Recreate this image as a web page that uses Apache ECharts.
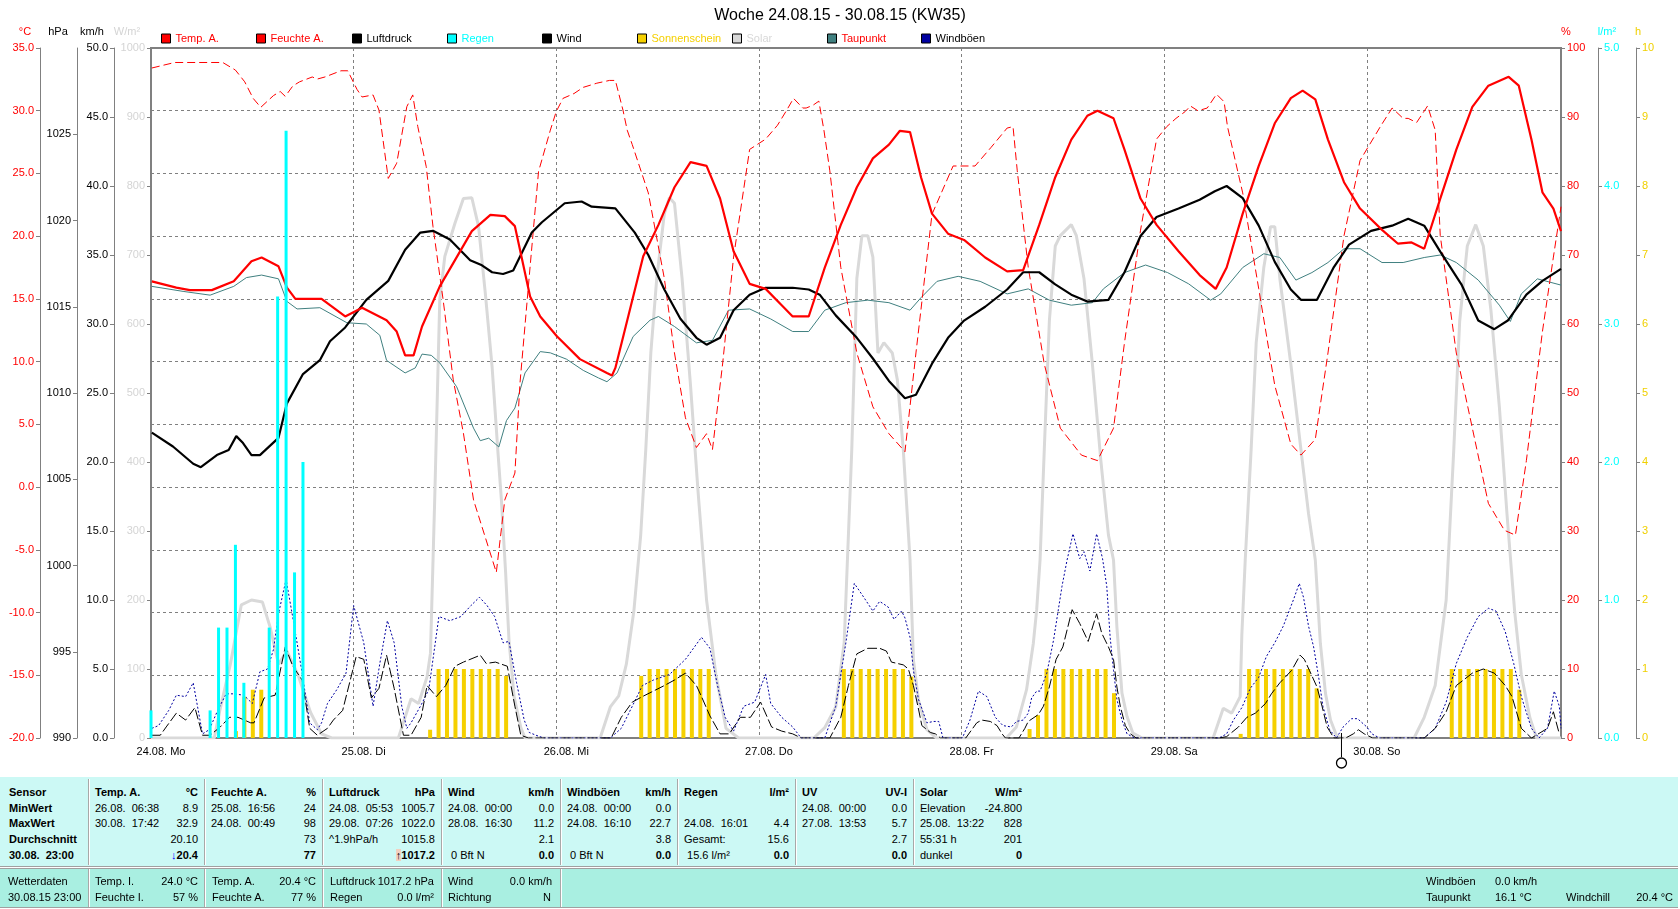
<!DOCTYPE html>
<html><head><meta charset="utf-8">
<script src="https://cdn.jsdelivr.net/npm/echarts/dist/echarts.min.js"></script>
<style>
html,body{margin:0;padding:0;background:#fff;overflow:hidden;width:1680px;height:909px;}
#chart{position:absolute;left:0;top:0;width:1680px;height:909px;}
#table{position:absolute;left:0;top:0;width:1680px;height:909px;pointer-events:none;font-family:'Liberation Sans',Arial,sans-serif;font-size:11px;color:#000;}
.t{position:absolute;white-space:pre;line-height:14px;height:14px;}
.b{font-weight:bold;}
.box{position:absolute;}
</style></head><body>
<div id="chart"></div><div id="table"></div>
<script>
const FONT = 'Liberation Sans';
const dayLabels = ['24.08. Mo','25.08. Di','26.08. Mi','27.08. Do','28.08. Fr','29.08. Sa','30.08. So'];

// [hour since 24.08. 00:00, value]
const tempA = [[0.1,16.4],[3.0,15.9],[4.6,15.7],[7.2,15.7],[9.8,16.4],[11.9,18.0],[13.1,18.3],[15.1,17.6],[16.1,15.9],[17.1,15.0],[20.2,15.0],[23.0,13.6],[25.0,14.3],[27.9,13.3],[29.1,12.4],[30.1,10.5],[31.1,10.5],[32.1,12.8],[34.2,16.0],[38.0,20.4],[40.2,21.7],[41.9,21.6],[43.1,20.8],[44.9,15.2],[46.1,13.6],[48.1,12.0],[50.8,10.2],[54.0,9.1],[54.6,8.9],[55.0,9.5],[58.3,18.4],[60.1,20.9],[62.0,23.9],[63.9,25.9],[65.8,25.6],[67.4,23.0],[69.0,18.8],[70.9,16.2],[72.8,15.8],[74.7,14.5],[76.0,13.6],[77.9,13.6],[79.8,17.5],[81.7,20.9],[83.6,23.9],[85.5,26.2],[87.4,27.3],[88.7,28.4],[89.9,28.3],[91.2,24.7],[92.5,21.8],[94.4,20.2],[96.3,19.7],[98.8,18.3],[101.4,17.2],[103.3,17.3],[105.2,20.9],[107.1,24.7],[109.0,27.7],[110.9,29.6],[112.1,30.0],[114.0,29.4],[115.3,26.9],[117.2,23.0],[119.1,20.9],[121.7,18.8],[124.2,16.9],[126.1,15.8],[127.4,17.5],[129.3,21.8],[131.2,25.6],[133.1,29.0],[135.0,31.0],[136.4,31.6],[137.9,30.9],[139.4,27.7],[141.3,24.3],[143.2,22.2],[145.8,20.5],[147.7,19.4],[149.3,19.5],[150.8,19.0],[152.7,23.0],[154.6,26.9],[156.5,30.3],[158.4,32.0],[160.8,32.7],[162.0,32.0],[163.5,27.7],[164.8,23.5],[166.1,22.2],[167,20.4]];

const feuchteA = [[0.1,97.1],[2.8,97.9],[8.5,97.9],[10.0,96.8],[11.1,95.1],[12.1,92.7],[13.0,91.4],[14.5,93.1],[15.3,93.7],[15.9,93.0],[16.8,94.5],[17.6,95.1],[19.1,95.8],[19.7,95.5],[20.6,95.8],[22.5,96.7],[23.3,96.7],[24.4,94.0],[25.0,92.9],[26.3,93.2],[27.0,91.0],[28.1,81.1],[29.1,83.3],[30.3,91.5],[31.0,93.2],[31.6,88.6],[32.6,82.8],[33.4,74.1],[34.6,63.5],[35.8,51.9],[37.0,44.2],[38.2,34.5],[40.9,24.0],[41.9,34.5],[43.1,38.4],[43.7,51.4],[44.9,68.3],[45.9,82.1],[47.3,88.1],[48.0,90.8],[48.8,92.7],[50.1,93.4],[51.2,94.3],[52.8,94.9],[54.3,95.3],[55.0,95.3],[55.9,91.0],[56.4,88.1],[57.0,86.0],[58.9,79.0],[60.8,66.6],[62.0,55.8],[63.3,46.4],[64.6,42.1],[65.8,44.1],[66.5,41.8],[67.7,54.2],[69.0,69.7],[70.9,85.3],[72.8,86.8],[74.2,88.8],[75.3,91.0],[76.1,92.7],[77.2,91.3],[77.6,91.3],[78.4,91.7],[79.1,92.3],[79.7,88.1],[80.4,82.2],[81.7,68.2],[83.6,55.8],[85.5,48.0],[87.4,44.1],[89.3,41.5],[90.6,55.8],[92.5,75.9],[95.0,82.9],[97.6,82.9],[99.5,85.6],[101.4,88.4],[102.1,88.6],[102.6,82.2],[103.9,68.2],[105.8,54.2],[107.7,44.9],[110.2,41.0],[112.1,40.2],[114.0,44.9],[115.3,57.3],[117.2,73.6],[119.1,86.8],[120.3,88.6],[121.4,89.8],[122.5,90.8],[123.1,91.6],[124.0,90.9],[125.1,91.3],[126.2,93.3],[127.1,92.2],[127.5,88.6],[129.3,79.0],[131.2,65.1],[133.1,51.1],[135.0,42.6],[136.2,41.0],[137.9,43.3],[139.4,55.8],[141.3,72.8],[143.2,83.7],[145.7,88.8],[147.0,91.3],[148.3,89.8],[148.9,89.8],[149.9,89.2],[151.2,91.6],[152.1,88.1],[152.7,72.8],[154.6,55.8],[156.5,44.9],[158.4,34.0],[160.3,30.1],[161.6,29.4],[162.9,40.2],[164.8,58.9],[166.1,69.7],[167,77]];

const luftdruck = [[0.1,1007.7],[2.6,1006.9],[5.0,1005.9],[5.9,1005.7],[7.8,1006.4],[9.2,1006.7],[10.1,1007.5],[10.9,1007.1],[11.9,1006.4],[12.9,1006.4],[15.1,1007.4],[16.1,1009.4],[18.0,1011.1],[20.0,1011.9],[21.2,1013.0],[23.0,1013.8],[25.5,1015.4],[28.1,1016.5],[30.1,1018.3],[31.9,1019.3],[33.4,1019.4],[35.4,1018.9],[37.8,1017.7],[39.2,1017.4],[40.4,1017.0],[41.7,1016.9],[42.9,1017.1],[45.1,1019.3],[46.3,1019.9],[49.0,1021.0],[51.0,1021.1],[52.2,1020.8],[55.0,1020.7],[57.3,1019.3],[58.9,1018.0],[60.8,1016.0],[62.7,1014.3],[64.6,1013.2],[65.8,1012.8],[67.4,1013.2],[69.0,1014.8],[70.9,1015.7],[72.8,1016.1],[76.0,1016.1],[77.9,1016.0],[79.2,1015.7],[81.1,1014.5],[83.6,1013.2],[85.5,1012.0],[87.4,1010.7],[89.3,1009.7],[90.6,1009.9],[92.5,1011.7],[94.4,1013.2],[96.3,1014.2],[98.8,1015.0],[101.4,1016.0],[103.3,1017.0],[105.2,1017.0],[107.1,1016.3],[109.0,1015.7],[110.9,1015.3],[113.4,1015.4],[115.3,1017.0],[117.2,1019.1],[119.1,1020.2],[121.7,1020.7],[124.2,1021.2],[126.0,1021.7],[127.4,1022.0],[129.3,1021.3],[131.2,1019.7],[133.1,1017.6],[135.0,1016.0],[136.2,1015.4],[138.1,1015.4],[140.1,1017.3],[141.9,1018.6],[144.5,1019.4],[147.0,1019.7],[148.9,1020.1],[150.8,1019.7],[152.7,1018.2],[155.2,1016.3],[157.2,1014.2],[159.1,1013.7],[160.7,1014.2],[162.9,1015.7],[164.8,1016.5],[167,1017.2]];

const taupunkt = [[0.1,16.0],[3.8,15.6],[7.0,15.3],[9.8,16.0],[11.3,16.7],[13.1,16.9],[15.1,16.6],[16.1,14.8],[17.3,14.2],[20.0,14.3],[23.2,13.1],[25.5,13.0],[27.1,12.1],[27.9,10.1],[30.1,9.1],[31.3,9.5],[32.1,10.6],[33.2,10.5],[34.2,9.9],[36.2,8.0],[38.2,4.7],[39.0,3.7],[40.0,3.9],[41.2,3.2],[42.1,5.3],[43.1,6.3],[44.3,9.1],[46.1,10.8],[47.3,10.7],[49.2,10.2],[51.2,9.3],[53.0,8.7],[54.0,8.4],[55.2,9.1],[57.1,12.0],[59.1,13.3],[60.1,13.6],[62.0,12.8],[64.6,11.5],[66.5,11.7],[68.4,14.1],[70.9,14.2],[73.4,13.4],[76.0,12.4],[77.9,12.4],[79.8,14.1],[82.3,14.7],[84.9,14.9],[87.4,14.7],[89.9,14.1],[91.2,15.1],[93.1,16.4],[95.6,16.8],[98.2,16.4],[101.4,15.4],[103.9,15.8],[106.4,14.9],[109.0,14.5],[111.5,14.7],[112.8,15.8],[115.3,17.1],[117.8,17.7],[120.4,17.1],[122.9,16.2],[125.5,14.9],[126.7,15.4],[129.3,17.5],[131.8,18.6],[133.7,18.3],[135.6,16.5],[137.5,17.1],[139.4,17.9],[141.3,19.0],[143.2,19.0],[145.8,17.9],[148.3,17.9],[150.8,18.3],[152.7,18.5],[154.6,17.9],[157.2,16.5],[159.7,14.5],[161.0,13.2],[162.3,15.4],[164.2,16.6],[167,16.1]];

const solar = [[0,0],[7.5,0],[8.1,37],[9.4,107],[10.7,193],[11.9,200],[13.2,197],[14.1,161],[15.1,107],[16.1,126],[17.4,92],[18.9,37],[20.2,6],[21.4,0],
[29.3,0],[30.8,57],[31.7,50],[32.7,89],[33.1,123],[33.6,345],[34.2,635],[34.8,698],[36.0,746],[37.0,782],[38.0,783],[38.8,741],[39.6,644],[40.4,538],[41.1,413],[41.5,345],[42.0,240],[42.4,142],[43.0,60],[43.8,15],[44.3,0],
[53.2,0],[54.4,45],[55.4,61],[56.3,107],[57.2,185],[58.0,294],[58.6,418],[59.2,558],[59.9,666],[60.8,760],[61.4,783],[62.0,775],[62.9,666],[63.9,511],[64.8,356],[65.8,200],[66.9,92],[68.1,14],[69.6,0],
[78.5,0],[79.8,15],[81.1,45],[82.1,138],[83.0,418],[83.6,666],[84.2,728],[84.9,728],[85.5,697],[86.1,558],[86.8,573],[87.8,558],[88.4,519],[89.1,418],[89.9,258],[90.3,113],[90.9,55],[91.9,12],[93.0,0],
[101.3,0],[102.5,16],[103.7,70],[104.5,137],[104.9,186],[105.3,258],[105.8,418],[106.4,604],[107.1,713],[107.7,728],[109.0,744],[109.6,728],[110.5,666],[111.5,542],[112.5,402],[113.4,294],[114.0,258],[114.4,161],[115.0,65],[115.6,31],[116.3,7],[117.4,0],
[125.8,0],[127.0,43],[128.0,36],[129.0,60],[129.2,150],[129.6,258],[130.3,418],[130.9,573],[131.8,682],[132.6,741],[133.1,741],[133.7,666],[135.0,542],[136.2,418],[137.1,325],[137.9,258],[138.5,137],[139.1,65],[139.7,26],[140.4,4],[141.0,0],
[149.6,0],[150.8,30],[152.1,76],[153.4,200],[154.3,418],[155.0,604],[155.9,713],[156.9,744],[157.8,713],[158.7,620],[159.7,480],[160.6,325],[161.5,185],[162.3,92],[163.3,30],[164.1,0],[167,0]];

const wind = [[0.1,0.2],[1.1,0.2],[1.8,0.8],[3.0,1.8],[4.1,1.3],[5.2,2.2],[6.1,0.2],[7.0,0.2],[8.2,0.8],[9.3,1.5],[10.3,1.5],[11.8,1.1],[12.2,1.1],[13.4,2.9],[14.7,3.1],[15.9,6.6],[16.8,5.2],[17.9,4.2],[18.8,0.7],[19.7,0.2],[20.9,0.7],[21.6,1.3],[22.7,2.0],[24.3,5.9],[25.2,5.7],[26.1,2.9],[27.0,3.6],[27.9,6.0],[28.8,3.6],[29.9,0.2],[30.8,0.2],[32.0,1.5],[32.7,3.8],[33.8,3.0],[34.9,3.8],[36.0,5.2],[37.0,5.5],[39.0,6.0],[39.7,5.4],[40.8,5.5],[42.2,5.2],[43.1,2.3],[43.8,0.2],[44.7,0],
[54.5,0],[55.7,1.5],[57.0,2.6],[58.2,3.0],[59.5,3.4],[60.8,3.8],[62.0,4.2],[63.3,4.7],[64.6,3.8],[65.2,3.0],[66.2,1.6],[67.4,0.3],[68.5,0.3],[69.8,1.5],[71.0,1.5],[72.2,2.6],[73.5,0.8],[74.7,0.5],[76.0,0.3],[77.0,0],
[80.4,0],[81.7,1.5],[82.6,3.8],[83.6,6.1],[84.9,6.5],[86.3,6.5],[87.1,6.3],[87.7,5.5],[89.1,5.3],[89.7,5.0],[90.3,3.8],[90.9,2.1],[91.3,0.9],[92.3,0.4],[92.9,0.3],[93.5,0],
[96.5,0],[97.8,1.1],[98.4,1.3],[99.4,1.2],[100.2,0.9],[100.8,0.3],[101.2,0],[102.8,0],[103.5,0.7],[103.9,1.2],[105.1,1.7],[105.7,2.3],[106.4,3.7],[107.2,5.7],[108.0,6.6],[109.1,9.3],[110.0,8.3],[111.0,7.0],[112.0,9.0],[112.6,7.6],[113.4,6.6],[114.0,5.7],[114.4,3.7],[114.8,2.3],[115.4,0.9],[116.0,0.3],[116.7,0],
[126.5,0],[127.4,0.1],[128.8,0.8],[129.8,1.5],[130.8,1.8],[132.0,2.5],[132.7,3.2],[133.7,4.0],[135.1,4.9],[136.1,6.0],[136.6,5.7],[137.2,4.9],[138.1,3.7],[138.7,2.3],[139.3,0.8],[140.1,0],[141.5,0],[142.4,0.3],[143.0,0.6],[143.7,0.3],[144.7,0],
[150.8,0],[152.1,0.7],[153.4,1.9],[154.6,3.8],[156.5,4.7],[157.8,5.0],[159.1,4.7],[160.4,3.8],[161.2,3.0],[162.3,0.7],[163.5,0],[165.4,0.7],[166.1,1.9],[166.8,0.3]];

const windboeen = [[0.1,0.7],[0.9,0.9],[2.1,2.0],[3.0,3.1],[4.1,3.0],[5.0,4.0],[6.1,0.3],[6.9,0.6],[7.9,2.0],[8.9,3.2],[9.8,3.2],[11.0,3.1],[12.0,2.5],[12.9,4.8],[13.8,5.0],[14.5,6.4],[15.1,9.0],[16.0,11.5],[17.0,8.0],[17.9,4.7],[18.8,1.1],[19.7,0.6],[20.2,1.1],[20.9,2.5],[22.0,3.5],[23.1,4.7],[24.0,9.6],[25.2,6.9],[26.3,2.3],[27.1,5.4],[28.0,8.5],[28.8,6.9],[29.7,2.3],[30.3,0.7],[30.8,1.1],[32.0,2.4],[32.9,3.5],[34.1,8.8],[35.4,8.5],[36.7,8.8],[37.9,9.6],[38.9,10.2],[39.8,9.6],[40.7,8.8],[41.7,6.9],[42.4,7.0],[43.3,4.0],[44.2,1.3],[44.8,0.4],[45.6,0.2],[46.5,0],
[54.4,0],[55.7,0.7],[57.0,2.3],[58.2,3.8],[59.5,4.2],[61.4,4.6],[63.3,5.7],[65.2,7.3],[66.2,6.5],[67.1,3.8],[68.0,1.5],[69.0,0.5],[70.2,2.3],[71.5,2.6],[72.8,4.6],[73.4,2.5],[74.7,1.5],[76.0,0.8],[77.0,0],
[79.8,0],[81.1,2.3],[82.3,6.9],[83.3,11.2],[84.2,10.4],[85.5,9.2],[86.3,9.9],[87.3,9.5],[88.0,8.6],[88.9,9.2],[89.3,8.7],[89.9,7.3],[90.3,4.9],[90.9,2.8],[91.9,1.1],[92.7,1.2],[93.3,1.2],[93.8,0],
[96.1,0],[97.0,1.3],[98.0,3.4],[99.0,3.0],[100.0,1.5],[100.9,0.9],[101.9,0.8],[102.5,1.2],[103.3,1.3],[103.9,1.8],[104.3,2.9],[104.9,3.4],[105.3,3.4],[106.1,4.7],[106.9,7.1],[107.9,11.0],[108.5,12.9],[109.2,14.8],[110.0,13.0],[110.5,13.5],[111.2,12.1],[112.0,14.8],[112.7,13.0],[113.2,11.0],[113.6,7.3],[114.0,4.9],[114.4,2.8],[115.0,1.3],[115.6,0.3],[116.5,0],
[126.5,0],[127.4,0.3],[128.2,1.3],[129.2,2.2],[130.2,3.6],[131.2,4.4],[132.1,5.9],[133.1,6.9],[134.1,8.1],[135.3,10.0],[136.0,11.2],[136.5,10.2],[137.1,8.1],[137.7,6.6],[138.3,4.4],[138.8,2.3],[139.6,0.6],[140.4,0],[141.2,0.8],[142.2,1.4],[142.9,1.4],[144.0,0.8],[144.6,0.3],[145.5,0],
[150.8,0],[152.1,0.7],[153.4,2.6],[154.6,5.4],[155.9,7.3],[157.2,8.8],[158.4,9.4],[159.3,9.2],[160.4,7.7],[161.4,5.4],[162.3,3.0],[163.5,0.7],[164.4,0],[165.4,0.7],[166.2,3.4],[166.8,2.3],[167,0.7]];

const regen = [[0,0.2],[7,0.2],[8,0.8],[9,0.8],[10,1.4],[11,0.4],[14,0.8],[15,3.2],[16,4.4],[17,1.2],[18,2.0]];

const sonne = [[10,0.1],[11,0.6],[12,0.7],[13,0.7],[33,0.12],[34,1],[35,1],[36,1],[37,1],[38,1],[39,1],[40,1],[41,1],[42,0.9],[58,0.9],[59,1],[60,1],[61,1],[62,1],[63,1],[64,1],[65,1],[66,1],[82,1],[83,1],[84,1],[85,1],[86,1],[87,1],[88,1],[89,1],[90,0.89],[104,0.13],[105,0.33],[106,1],[107,1],[108,1],[109,1],[110,1],[111,1],[112,1],[113,1],[114,0.65],[129,0.06],[130,1],[131,1],[132,1],[133,1],[134,1],[135,1],[136,1],[137,1],[138,0.72],[154,1],[155,1],[156,1],[157,1],[158,1],[159,1],[160,1],[161,1],[162,0.7]];

const markerHour = 141;

const legendNames  = ['Temp. A.','Feuchte A.','Luftdruck','Regen','Wind','Sonnenschein','Solar','Taupunkt','Windböen'];
const legendIcon   = ['#ff0000','#ff0000','#000000','#00ffff','#000000','#f5d000','#d8d8d8','#408080','#0000a0'];
const legendText   = ['#ff0000','#ff0000','#000000','#00ffff','#000000','#f5d000','#d8d8d8','#ff0000','#000000'];
const legendLeft   = [161,256,352,447,542,637,732,827,921];

// ---------- chart ----------
const chart = echarts.init(document.getElementById('chart'), null, {renderer:'canvas'});
const GRAY = '#808080';
function yAxisDef(o){
  return {
    type:'value', position:o.pos, offset:o.off, min:o.min, max:o.max, interval:o.int,
    axisLine:{show:true, onZero:false, lineStyle:{color:GRAY, width:o.w||1}},
    axisTick:{show:true, inside:false, length:4, lineStyle:{color:GRAY}},
    splitLine: o.split ? {show:true, lineStyle:{color:GRAY, width:1, type:[3,3]}} : {show:false},
    axisLabel:{show:true, color:o.color, fontSize:11, fontFamily:FONT, margin:6, showMaxLabel:o.showMax!==false, formatter:o.fmt},
    name:''
  };
}
const option = {
  animation:false,
  backgroundColor:'#ffffff',
  title:{text:'Woche 24.08.15 - 30.08.15 (KW35)', left:'center', top:8, padding:0,
    textStyle:{fontSize:16, fontWeight:'normal', color:'#000', fontFamily:FONT}},
  legend: legendNames.map((n,i)=>({
    left:legendLeft[i], top:33, padding:0, itemWidth:9, itemHeight:9, icon:'rect', selectedMode:false,
    textStyle:{fontSize:11, fontFamily:FONT, color:legendText[i]},
    itemStyle:{borderColor:'#000', borderWidth:1},
    data:[{name:n, icon:'rect', itemStyle:{color:legendIcon[i], borderColor:'#000', borderWidth:1}, textStyle:{color:legendText[i]}}]
  })),
  grid:{left:151, right:119, top:48, bottom:171, show:true, borderColor:GRAY, borderWidth:2, containLabel:false},
  xAxis:{type:'value', min:0, max:167, interval:24,
    axisLine:{show:true, onZero:false, lineStyle:{color:GRAY, width:2}},
    axisTick:{show:false},
    splitLine:{show:true, lineStyle:{color:GRAY, width:1, type:[3,3]}},
    axisLabel:{show:true, margin:8, showMaxLabel:false, fontSize:11, fontFamily:FONT, color:'#000',
      formatter:v => (v % 24 === 0 && dayLabels[v/24]) ? '{a|'+dayLabels[v/24]+'}' : '',
      rich:{a:{padding:[0,0,0,20], fontSize:11, fontFamily:FONT, color:'#000'}}}
  },
  yAxis:[
    yAxisDef({pos:'left', off:111, min:-20, max:35, int:5, color:'#ff0000', split:true, fmt:v=>v.toFixed(1)}),
    yAxisDef({pos:'left', off:74, min:990, max:1030, int:5, color:'#000', showMax:false, fmt:v=>String(v)}),
    yAxisDef({pos:'left', off:37, min:0, max:50, int:5, color:'#000', fmt:v=>v.toFixed(1)}),
    yAxisDef({pos:'left', off:0, min:0, max:1000, int:100, color:'#d4d4d4', w:2, fmt:v=>String(v)}),
    yAxisDef({pos:'right', off:0, min:0, max:100, int:10, color:'#ff0000', w:2, fmt:v=>String(v)}),
    yAxisDef({pos:'right', off:37, min:0, max:5, int:1, color:'#00ffff', fmt:v=>v.toFixed(1)}),
    yAxisDef({pos:'right', off:75, min:0, max:10, int:1, color:'#f0d000', fmt:v=>String(v)})
  ],
  series:[
    {name:'Solar', type:'line', yAxisIndex:3, data:solar, symbol:'none', z:1,
      lineStyle:{color:'#d9d9d9', width:3}, itemStyle:{color:'#d8d8d8'}},
    {name:'Sonnenschein', type:'bar', yAxisIndex:6, data:sonne, barWidth:4, barGap:'-100%', z:2,
      itemStyle:{color:'#f5d000'}},
    {name:'Windböen', type:'line', yAxisIndex:2, data:windboeen, symbol:'none', z:3,
      lineStyle:{color:'#0000a0', width:1, type:[2,2]}, itemStyle:{color:'#0000a0'}},
    {name:'Wind', type:'line', yAxisIndex:2, data:wind, symbol:'none', z:3,
      lineStyle:{color:'#000000', width:1, type:[10,3]}, itemStyle:{color:'#000'}},
    {name:'Taupunkt', type:'line', yAxisIndex:0, data:taupunkt, symbol:'none', z:4,
      lineStyle:{color:'#408080', width:1}, itemStyle:{color:'#408080'}},
    {name:'Feuchte A.', type:'line', yAxisIndex:4, data:feuchteA, symbol:'none', z:4,
      lineStyle:{color:'#ff0000', width:1, type:[8,4]}, itemStyle:{color:'#ff0000'}},
    {name:'Luftdruck', type:'line', yAxisIndex:1, data:luftdruck, symbol:'none', z:5,
      lineStyle:{color:'#000000', width:2.2}, itemStyle:{color:'#000'}},
    {name:'Temp. A.', type:'line', yAxisIndex:0, data:tempA, symbol:'none', z:6,
      lineStyle:{color:'#ff0000', width:2.2}, itemStyle:{color:'#ff0000'}},
    {name:'Regen', type:'bar', yAxisIndex:5, data:regen, barWidth:3, barGap:'-100%', z:7,
      itemStyle:{color:'#00ffff'}}
  ]
};
chart.setOption(option);

const units = [['°C',25,'#ff0000'],['hPa',58,'#000'],['km/h',92,'#000'],['W/m²',127,'#d4d4d4'],['%',1566,'#ff0000'],['l/m²',1607,'#00ffff'],['h',1638,'#f0d000']];
const mx = chart.convertToPixel({xAxisIndex:0}, markerHour);
const gfx = units.map((u,i)=>({type:'text', id:'u'+i, style:{text:u[0], x:u[1], y:32, fill:u[2], font:'11px '+FONT, align:'center', verticalAlign:'middle'}}));
gfx.push({type:'line', id:'mk1', shape:{x1:mx, y1:733, x2:mx, y2:757}, style:{stroke:'#000', lineWidth:1}, z:10});
gfx.push({type:'circle', id:'mk2', shape:{cx:mx, cy:763, r:5}, style:{fill:'none', stroke:'#000', lineWidth:1.3}, z:10});
chart.setOption({graphic:gfx});

// ---------- table ----------
const tbl = document.getElementById('table');
function box(l,t,w,h,css){const d=document.createElement('div');d.className='box';d.style.cssText=`left:${l}px;top:${t}px;width:${w}px;height:${h}px;`+css;tbl.appendChild(d);}
function txt(x,y,s,align,cls,color){const d=document.createElement('div');d.className='t '+(cls||'');d.textContent=s;
  if(align==='r'){d.style.right=(1680-x)+'px';}else{d.style.left=x+'px';}
  d.style.top=(y-7)+'px'; if(color)d.style.color=color; tbl.appendChild(d); return d;}

const colX = [0,88,204,322,441,560,677,795,913];
const tableHead = [['Sensor',''],['Temp. A.','°C'],['Feuchte A.','%'],['Luftdruck','hPa'],['Wind','km/h'],['Windböen','km/h'],['Regen','l/m²'],['UV','UV-I'],['Solar','W/m²']];
const rowNames = ['MinWert','MaxWert','Durchschnitt','30.08.  23:00'];
const tableRows = [
 [['26.08.  06:38','8.9'],['25.08.  16:56','24'],['24.08.  05:53','1005.7'],['24.08.  00:00','0.0'],['24.08.  00:00','0.0'],['',''],['24.08.  00:00','0.0'],['Elevation','-24.800']],
 [['30.08.  17:42','32.9'],['24.08.  00:49','98'],['29.08.  07:26','1022.0'],['28.08.  16:30','11.2'],['24.08.  16:10','22.7'],['24.08.  16:01','4.4'],['27.08.  13:53','5.7'],['25.08.  13:22','828']],
 [['','20.10'],['','73'],['^1.9hPa/h','1015.8'],['','2.1'],['','3.8'],['Gesamt:','15.6'],['','2.7'],['55:31 h','201']],
 [['','20.4'],['','77'],['','1017.2'],[' 0 Bft N','0.0'],[' 0 Bft N','0.0'],[' 15.6 l/m²','0.0'],['','0.0'],['dunkel','0']]
];
const rowY = [792,808,823,839,855];
const stripY = [881,897];
const stripCells = [
 [8,0,'Wetterdaten','l'],[8,1,'30.08.15 23:00','l'],
 [95,0,'Temp. I.','l'],[198,0,'24.0 °C','r'],[95,1,'Feuchte I.','l'],[198,1,'57 %','r'],
 [212,0,'Temp. A.','l'],[316,0,'20.4 °C','r'],[212,1,'Feuchte A.','l'],[316,1,'77 %','r'],
 [330,0,'Luftdruck','l'],[434,0,'1017.2 hPa','r'],[330,1,'Regen','l'],[434,1,'0.0 l/m²','r'],
 [448,0,'Wind','l'],[552,0,'0.0 km/h','r'],[448,1,'Richtung','l'],[551,1,'N','r'],
 [1426,0,'Windböen','l'],[1495,0,'0.0 km/h','l'],[1426,1,'Taupunkt','l'],[1495,1,'16.1 °C','l'],
 [1566,1,'Windchill','l'],[1673,1,'20.4 °C','r']
];

box(0,777,1678,89,'background:#ccf9f5;border-bottom:1px solid #a0a0a0;');
box(0,868,1678,38,'background:#a9efe1;border-top:1px solid #a0a0a0;border-bottom:1px solid #a0a0a0;');
colX.slice(1).forEach(x=>{box(x,779,1,86,'background:#a8a8a8;');box(x+1,779,1,86,'background:#ffffff;');});
[88,204,322,441,560].forEach(x=>{box(x,869,1,38,'background:#a8a8a8;');box(x+1,869,1,38,'background:#ffffff;');});

// header row
txt(9,rowY[0],tableHead[0][0],'l','b');
for(let c=1;c<tableHead.length;c++){
  txt(colX[c]+7,rowY[0],tableHead[c][0],'l','b');
  const rx = c===8 ? 1022 : ((colX[c+1]||1022)-6);
  txt(rx,rowY[0],tableHead[c][1],'r','b');
}
rowNames.forEach((n,r)=>txt(9,rowY[r+1],n,'l','b'));
tableRows.forEach((row,r)=>{
  row.forEach((cell,ci)=>{
    const c = ci+1;
    const rx = c===8 ? 1022 : (colX[c+1]-6);
    if(cell[0]) txt(colX[c]+7,rowY[r+1],cell[0],'l');
    if(cell[1]){
      const bold = r===3;
      const d = txt(rx,rowY[r+1],cell[1],'r',bold?'b':'');
      if(bold && c===1){const s=document.createElement('span');s.textContent='↓';s.style.color='#0000ff';d.insertBefore(s,d.firstChild);}
      if(bold && c===3){const s=document.createElement('span');s.textContent='↑';s.style.color='#000';s.style.background='#f2d0c0';d.insertBefore(s,d.firstChild);}
    }
  });
});
stripCells.forEach(s=>txt(s[0],stripY[s[1]],s[2],s[3]));
</script></body></html>
